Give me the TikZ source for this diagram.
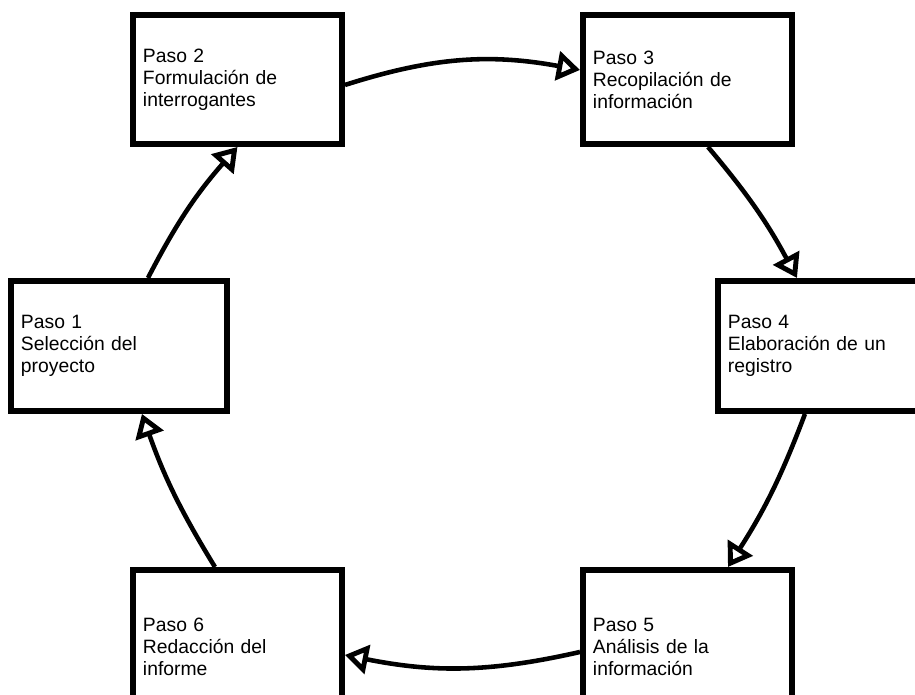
\documentclass[tikz,border=0pt]{standalone}
\usepackage{fontspec}
\setmainfont{Liberation Sans}
\usetikzlibrary{arrows.meta}
\begin{document}
\begin{tikzpicture}[x=0.02cm, y=-0.02cm,
		paso/.style={draw, line width=3.4pt, anchor=north west, align=left,
			text width=3.78cm, inner xsep=0.2cm, font=\fontsize{11}{12.5}\selectfont},
		flecha/.style={line width=2.6pt, -{Triangle[open, length=0.46cm, width=0.58cm, line width=2.8pt]}}
		]
	\useasboundingbox (0,0) rectangle (915,695);
	\node [paso, minimum height=2.6cm, text width=3.92cm] (p1) at (8,278) {Paso 1\\Selección del\\proyecto};
	\node [paso, minimum height=2.58cm] (p2) at (130,12) {Paso 2\\Formulación de\\interrogantes};
	\node [paso, minimum height=2.58cm] (p3) at (580,12) {Paso 3\\Recopilación de\\información};
	\node [paso, minimum height=2.6cm] (p4) at (715,278) {Paso 4\\Elaboración de un\\registro};
	\node [paso, minimum height=3.08cm] (p5) at (580,567) {Paso 5\\Análisis de la\\información};
	\node [paso, minimum height=3.08cm] (p6) at (130,567) {Paso 6\\Redacción del\\informe};
	\draw [flecha] ([xshift=0.58cm]p1.north) to[bend left=7] (p2.south);
	\draw [flecha] ([yshift=-0.11cm]p2.east) to[bend left=14] ([yshift=0.19cm]p3.west);
	\draw [flecha] ([xshift=0.41cm]p3.south) to[bend left=6] ([xshift=-0.51cm]p4.north);
	\draw [flecha] ([xshift=-0.35cm]p4.south) to[bend left=6] ([xshift=0.81cm]p5.north);
	\draw [flecha] ([yshift=-0.1cm]p5.west) to[bend left=12] ([yshift=-0.16cm]p6.east);
	\draw [flecha] ([xshift=-0.45cm]p6.north) to[bend left=6] ([xshift=0.46cm]p1.south);
\end{tikzpicture}
\end{document}
